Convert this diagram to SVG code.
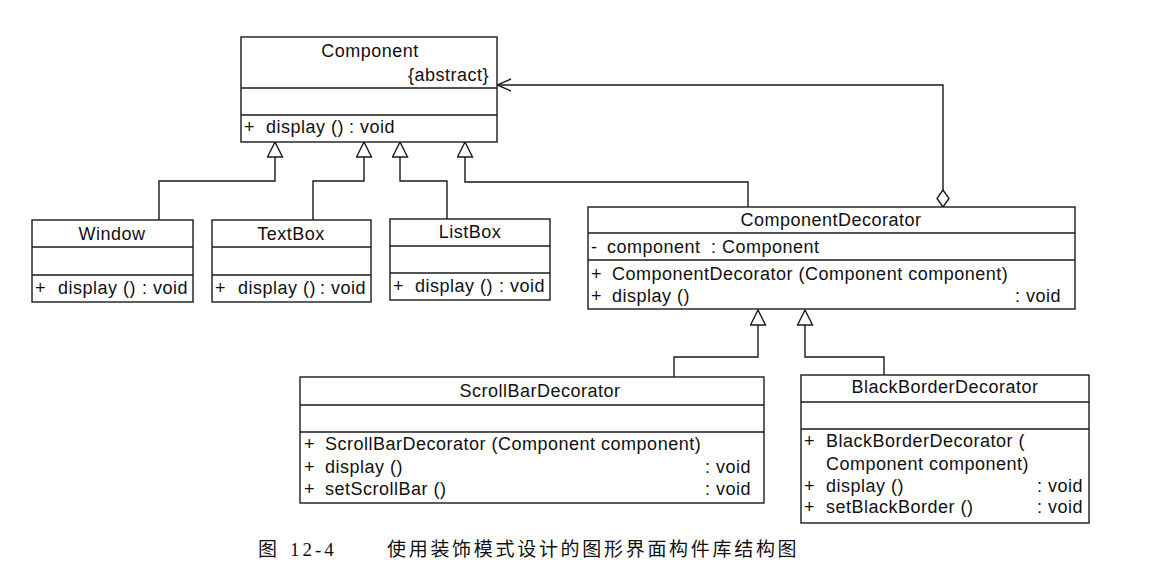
<svg xmlns="http://www.w3.org/2000/svg" width="1165" height="586" viewBox="0 0 1165 586">
<style>
.box{fill:#fff;stroke:#1a1a1a;stroke-width:1.4}
.sep{stroke:#1a1a1a;stroke-width:1.4;fill:none}
.t{font-family:"Liberation Sans",Arial,sans-serif;font-size:18px;letter-spacing:0.5px;fill:#111}
.c{text-anchor:middle}
.e{text-anchor:end}
.conn{fill:none;stroke:#1a1a1a;stroke-width:1.4}
.cap{font-family:"Liberation Serif","Noto Sans CJK SC",serif;font-size:19px;fill:#111}
</style>
<defs>
<marker id="gen" viewBox="-1 -1 17 17" refX="15" refY="7.5" markerWidth="17" markerHeight="17" markerUnits="userSpaceOnUse" orient="auto">
<path d="M0,0 L15,7.5 L0,15 Z" fill="#fff" stroke="#1a1a1a" stroke-width="1.4"/>
</marker>
<marker id="open" viewBox="-1 -1 16 16" refX="14" refY="7" markerWidth="16" markerHeight="16" markerUnits="userSpaceOnUse" orient="auto">
<path d="M0,1 L14,7 L0,13" fill="none" stroke="#1a1a1a" stroke-width="1.4"/>
</marker>
</defs>
<rect width="1165" height="586" fill="#fff"/>

<g id="connectors">
<path class="conn" d="M159,220 V181 H275 V142" marker-end="url(#gen)"/>
<path class="conn" d="M313,220 V181 H364 V142" marker-end="url(#gen)"/>
<path class="conn" d="M447,219 V181 H400 V142" marker-end="url(#gen)"/>
<path class="conn" d="M748,207 V182 H465 V142" marker-end="url(#gen)"/>
<path class="conn" d="M674,377 V357 H758 V310" marker-end="url(#gen)"/>
<path class="conn" d="M884,375 V357 H805 V310" marker-end="url(#gen)"/>
<path class="conn" d="M943,190 V85 H497" marker-end="url(#open)"/>
<polygon class="conn" points="943,207 949,198.5 943,190 937,198.5" style="fill:#fff"/>
</g>

<g id="Component">
<rect class="box" x="241" y="37" width="256" height="105"/>
<line class="sep" x1="241" y1="88" x2="497" y2="88"/>
<line class="sep" x1="241" y1="115" x2="497" y2="115"/>
<text class="t c" x="370" y="57">Component</text>
<text class="t e" x="489" y="81">{abstract}</text>
<text class="t" x="244" y="133">+</text>
<text class="t" x="266" y="133">display ()</text>
<text class="t e" x="395" y="133">: void</text>
</g>

<g id="Window">
<rect class="box" x="32" y="220" width="161" height="82"/>
<line class="sep" x1="32" y1="247" x2="193" y2="247"/>
<line class="sep" x1="32" y1="275" x2="193" y2="275"/>
<text class="t c" x="112" y="240">Window</text>
<text class="t" x="35" y="294">+</text>
<text class="t" x="58" y="294">display ()</text>
<text class="t e" x="188" y="294">: void</text>
</g>

<g id="TextBox">
<rect class="box" x="212" y="220" width="159" height="82"/>
<line class="sep" x1="212" y1="247" x2="371" y2="247"/>
<line class="sep" x1="212" y1="275" x2="371" y2="275"/>
<text class="t c" x="291" y="240">TextBox</text>
<text class="t" x="215" y="294">+</text>
<text class="t" x="238" y="294">display ()</text>
<text class="t e" x="366" y="294">: void</text>
</g>

<g id="ListBox">
<rect class="box" x="390" y="219" width="160" height="81"/>
<line class="sep" x1="390" y1="246" x2="550" y2="246"/>
<line class="sep" x1="390" y1="273" x2="550" y2="273"/>
<text class="t c" x="470" y="238">ListBox</text>
<text class="t" x="393" y="292">+</text>
<text class="t" x="415" y="292">display ()</text>
<text class="t e" x="545" y="292">: void</text>
</g>

<g id="ComponentDecorator">
<rect class="box" x="588" y="207" width="487" height="102"/>
<line class="sep" x1="588" y1="233" x2="1075" y2="233"/>
<line class="sep" x1="588" y1="260" x2="1075" y2="260"/>
<text class="t c" x="831" y="226">ComponentDecorator</text>
<text class="t" x="591" y="253">-</text>
<text class="t" x="607" y="253">component</text>
<text class="t" x="711" y="253">: Component</text>
<text class="t" x="591" y="280">+</text>
<text class="t" x="612" y="280">ComponentDecorator (Component component)</text>
<text class="t" x="591" y="302">+</text>
<text class="t" x="612" y="302">display ()</text>
<text class="t e" x="1061" y="302">: void</text>
</g>

<g id="ScrollBarDecorator">
<rect class="box" x="300" y="377" width="464" height="126"/>
<line class="sep" x1="300" y1="405" x2="764" y2="405"/>
<line class="sep" x1="300" y1="432" x2="764" y2="432"/>
<text class="t c" x="540" y="397">ScrollBarDecorator</text>
<text class="t" x="304" y="450">+</text>
<text class="t" x="325" y="450">ScrollBarDecorator (Component component)</text>
<text class="t" x="304" y="473">+</text>
<text class="t" x="325" y="473">display ()</text>
<text class="t e" x="751" y="473">: void</text>
<text class="t" x="304" y="495">+</text>
<text class="t" x="325" y="495">setScrollBar ()</text>
<text class="t e" x="751" y="495">: void</text>
</g>

<g id="BlackBorderDecorator">
<rect class="box" x="801" y="375" width="288" height="148"/>
<line class="sep" x1="801" y1="402" x2="1089" y2="402"/>
<line class="sep" x1="801" y1="429" x2="1089" y2="429"/>
<text class="t c" x="945" y="393">BlackBorderDecorator</text>
<text class="t" x="804" y="447">+</text>
<text class="t" x="826" y="447">BlackBorderDecorator (</text>
<text class="t" x="826" y="470">Component component)</text>
<text class="t" x="804" y="492">+</text>
<text class="t" x="826" y="492">display ()</text>
<text class="t e" x="1083" y="492">: void</text>
<text class="t" x="804" y="513">+</text>
<text class="t" x="826" y="513">setBlackBorder ()</text>
<text class="t e" x="1083" y="513">: void</text>
</g>

<g id="caption">
<text class="cap" x="258" y="556">图</text>
<text class="cap" x="290" y="556" style="letter-spacing:3px">12-4</text>
<text class="cap" x="387" y="556" style="letter-spacing:2.7px">使用装饰模式设计的图形界面构件库结构图</text>
</g>
</svg>
